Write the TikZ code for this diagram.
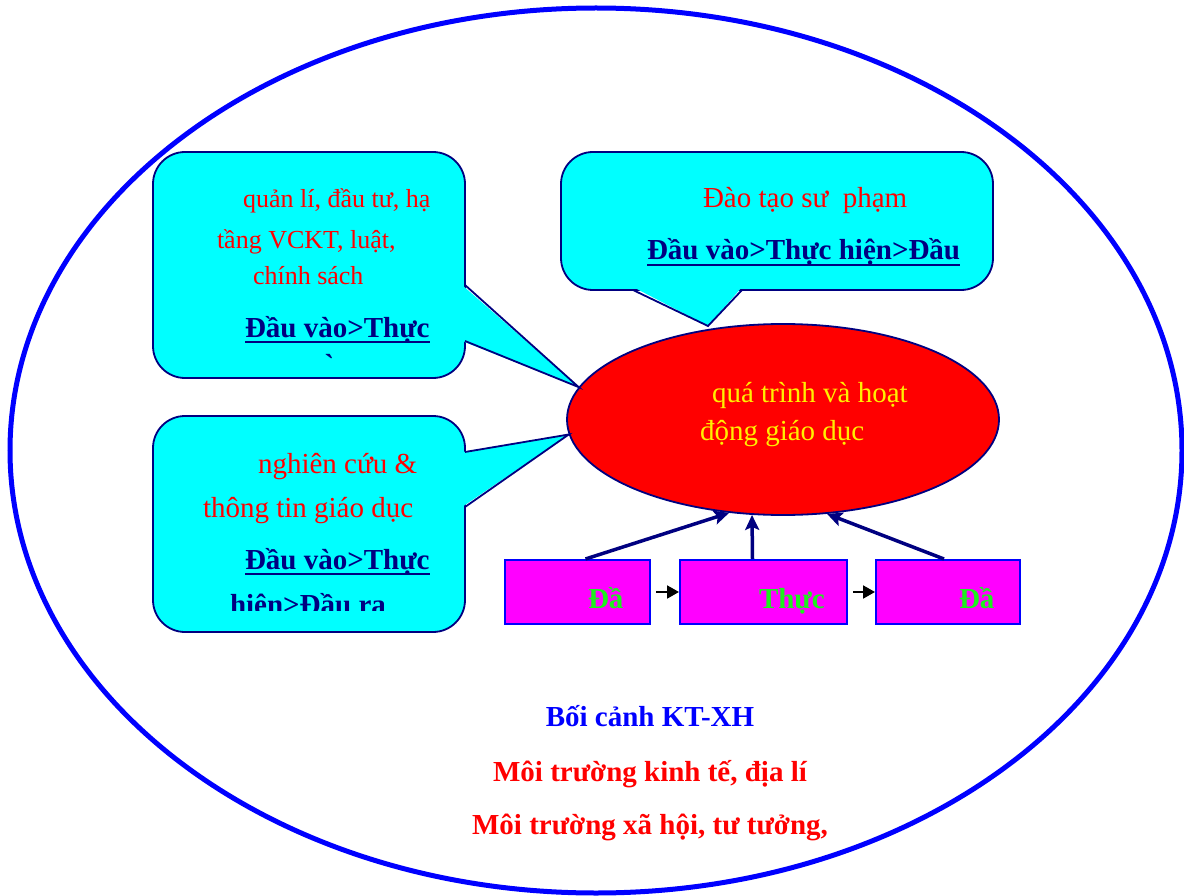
\documentclass[tikz,border=0pt]{standalone}
\usepackage{fontspec}
\setmainfont{Liberation Serif}
\usetikzlibrary{shapes.geometric,arrows.meta}
\definecolor{navyc}{RGB}{0,0,128}
\definecolor{cyanc}{RGB}{0,255,255}
\definecolor{redc}{RGB}{255,0,0}
\definecolor{magc}{RGB}{255,0,255}
\definecolor{bluec}{RGB}{0,0,255}
\definecolor{greenc}{RGB}{30,240,30}
\definecolor{yellowc}{RGB}{255,240,0}
\begin{document}
\begin{tikzpicture}[x=1pt,y=-1pt,
  callbox/.style={draw=navyc, fill=cyanc, line width=1.8pt, rounded corners=32pt, inner sep=0pt},
  tailline/.style={draw=navyc, line width=1.8pt, line join=miter},
  txt/.style={anchor=base west, inner sep=0pt, outer sep=0pt},
  redtxt/.style={txt, text=redc, font=\fontsize{26}{30}\selectfont},
  redtxtb/.style={txt, text=redc, font=\fontsize{29}{34}\selectfont},
  ultxt/.style={txt, text=navyc, font=\bfseries\fontsize{29}{34}\selectfont},
  ulline/.style={draw=navyc, line width=2pt},
  magbox/.style={draw=bluec, fill=magc, line width=2pt, minimum height=64pt, inner sep=0pt},
  boxtxt/.style={txt, text=greenc, font=\bfseries\fontsize{29}{34}\selectfont},
  uparrow/.style={draw=navyc, line width=3.5pt, -{Stealth[length=15pt,width=14pt,inset=3pt]}},
  smallarrow/.style={draw=black, line width=2pt, shorten <=5pt, -{Triangle[length=12pt,width=13pt]}},
  yeltxt/.style={txt, text=yellowc, font=\fontsize{29}{33}\selectfont},
  ctxbold/.style={anchor=base, inner sep=0pt, font=\bfseries\fontsize{29}{34}\selectfont}
]
\useasboundingbox (0,0) rectangle (1184,896);
\fill[white] (0,0) rectangle (1184,896);

% outer context ellipse
\draw[bluec, line width=5pt] (596,450.5) ellipse [x radius=586, y radius=442.5];

% central process ellipse
\node[ellipse, draw=navyc, fill=redc, line width=1.8pt, minimum width=432pt, minimum height=191pt, inner sep=0pt] (proc) at (783,419.5) {};
\node[yeltxt] (p1) at (712,402) {quá trình và hoạt};
\node[yeltxt] (p2) at (700,440) {động giáo dục};

% callout 1
\node[callbox, minimum width=312pt, minimum height=226pt] (c1) at (309,265) {};
\coordinate (t1a) at (465,285);
\coordinate (t1b) at (465,341);
\fill[cyanc] (462,285) -- (proc.171) -- (462,341) -- cycle;
\draw[tailline] (t1a) -- (proc.171) -- (t1b);
\node[redtxt] (c1l1) at (243,208) {quản lí, đầu tư, hạ};
\node[redtxt] (c1l2) at (217,249) {tầng VCKT, luật,};
\node[redtxt] (c1l3) at (253,285) {chính sách};
\node[ultxt] (c1u) at (245,337) {Đầu vào>Thực};
\draw[ulline] ([yshift=-5pt]c1u.base west) -- ([yshift=-5pt]c1u.base east);
\begin{scope}
  \clip (160,346) rectangle (460,358.5);
  \node[ultxt] (c1h) at (322,374) {à};
\end{scope}

% callout 2
\node[callbox, minimum width=312pt, minimum height=216pt] (c2) at (309,524) {};
\coordinate (t2a) at (465,452);
\coordinate (t2b) at (465,507);
\fill[cyanc] (462,452) -- (proc.184) -- (462,507) -- cycle;
\draw[tailline] (t2a) -- (proc.184) -- (t2b);
\node[redtxtb] (c2l1) at (258,473) {nghiên cứu \&};
\node[redtxtb] (c2l2) at (203,517) {thông tin giáo dục};
\node[ultxt] (c2u) at (245,569) {Đầu vào>Thực};
\draw[ulline] ([yshift=-5pt]c2u.base west) -- ([yshift=-5pt]c2u.base east);
\begin{scope}
  \clip (160,580) rectangle (460,610);
  \node[ultxt] (c2h) at (230,614) {hiện>Đầu ra};
\end{scope}

% callout 3
\node[callbox, minimum width=432pt, minimum height=138pt] (c3) at (777,221) {};
\coordinate (t3a) at (633,290);
\coordinate (t3b) at (742,290);
\coordinate (tip3) at (708,326);
\fill[cyanc] (633,287) -- (tip3) -- (742,287) -- cycle;
\draw[tailline] (t3a) -- (tip3) -- (t3b);
\node[redtxtb] (c3l1) at (703,208) {Đào tạo sư\ \ phạm};
\node[ultxt] (c3u) at (647,260) {Đầu vào>Thực hiện>Đầu};
\draw[ulline] ([yshift=-5pt]c3u.base west) -- ([yshift=-5pt]c3u.base east);

% input - process - output boxes
\node[magbox, minimum width=145pt] (b1) at (577.5,592) {};
\node[magbox, minimum width=167pt] (b2) at (763.5,592) {};
\node[magbox, minimum width=144pt] (b3) at (948,592) {};
\node[boxtxt] (b1t) at (588,608) {Đầ};
\node[boxtxt] (b2t) at (759,608) {Thực};
\node[boxtxt] (b3t) at (959,608) {Đầ};
\draw[smallarrow] (b1.east) -- (b2.west);
\draw[smallarrow] (b2.east) -- (b3.west);
\draw[uparrow] ([xshift=8pt]b1.north) -- (proc.240);
\draw[uparrow] ([xshift=-11pt]b2.north) -- (proc.252);
\draw[uparrow] ([xshift=-4pt]b3.north) -- (proc.295);

% context text
\node[ctxbold, text=bluec] (k1) at (650,726) {Bối cảnh KT-XH};
\node[ctxbold, text=redc] (k2) at (650,781) {Môi trường kinh tế, địa lí};
\node[ctxbold, text=redc] (k3) at (650,834) {Môi trường xã hội, tư tưởng,};
\end{tikzpicture}
\end{document}
